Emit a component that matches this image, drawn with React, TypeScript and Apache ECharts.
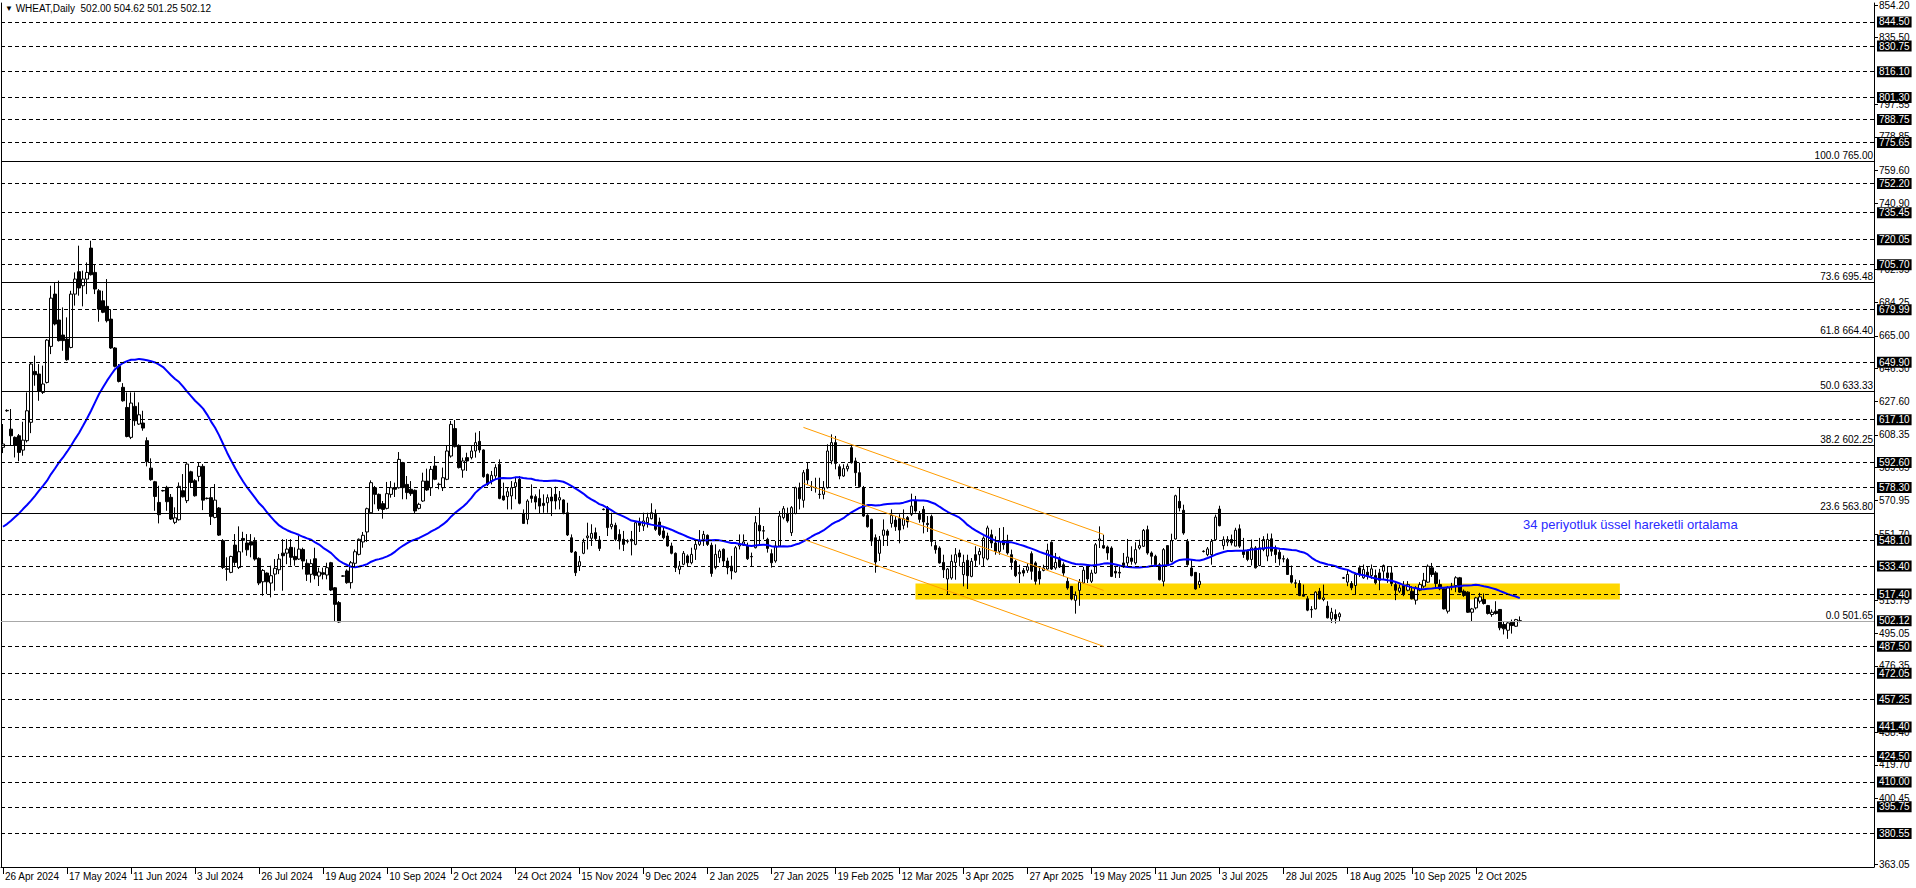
import React, { useEffect, useRef } from "react";
import * as echarts from "echarts";

const chartTitle = "WHEAT,Daily";
const lastBar = [502.0, 504.62, 501.25, 502.12];

const dateLabels = [
  "26 Apr 2024", "17 May 2024", "11 Jun 2024", "3 Jul 2024", "26 Jul 2024", "19 Aug 2024",
  "10 Sep 2024", "2 Oct 2024", "24 Oct 2024", "15 Nov 2024", "9 Dec 2024", "2 Jan 2025",
  "27 Jan 2025", "19 Feb 2025", "12 Mar 2025", "3 Apr 2025", "27 Apr 2025", "19 May 2025",
  "11 Jun 2025", "3 Jul 2025", "28 Jul 2025", "18 Aug 2025", "10 Sep 2025", "2 Oct 2025",
];
const barsPerDateLabel = 16;
const totalSlots = 468;

// daily bars: [open, close, low, high]
const candles: number[][] = [
  [601.3,603.2,598.0,614.6],[622.2,622.4,621.6,623.0],[611.7,607.9,602.2,623.2],[607.0,602.6,595.5,607.5],
  [607.9,598.4,593.3,608.9],[599.7,605.4,596.5,615.9],[605.1,622.2,604.1,632.7],[615.6,648.9,609.4,649.9],
  [644.7,642.8,636.5,653.7],[643.2,633.3,627.9,648.9],[632.7,637.5,631.8,648.0],[638.4,662.6,637.8,663.2],
  [659.0,686.6,654.6,693.7],[688.9,671.8,671.0,695.6],[674.1,662.3,661.8,696.6],[665.5,662.3,656.5,681.3],
  [663.2,651.4,650.8,675.6],[658.4,688.9,657.9,690.8],[688.9,697.5,682.3,701.3],[701.7,692.4,688.0,716.6],
  [693.7,697.5,681.9,702.3],[697.5,701.3,688.9,707.0],[715.2,700.0,699.5,719.4],[701.3,691.8,688.9,706.1],
  [690.8,680.3,673.1,691.8],[685.1,678.5,678.0,690.8],[681.9,673.7,672.7,697.5],[674.6,658.1,657.6,680.3],
  [658.1,647.6,647.0,658.6],[647.6,639.0,638.4,648.9],[635.6,627.9,627.4,638.0],[624.1,607.5,607.0,632.7],
  [607.0,626.6,606.0,632.7],[624.7,616.5,613.6,632.7],[614.6,619.9,614.1,627.0],[615.2,612.3,610.8,622.2],
  [605.1,593.1,590.4,607.0],[589.4,582.8,582.2,595.0],[581.6,573.2,565.0,582.1],[569.8,562.8,557.8,579.3],
  [576.6,576.4,576.0,577.0],[578.4,570.2,565.0,579.3],[572.7,560.3,559.8,574.6],[558.4,561.0,557.4,567.0],
  [559.9,579.0,559.4,581.2],[576.5,573.0,572.6,586.0],[570.8,591.7,569.4,592.2],[587.3,581.2,578.4,587.9],
  [582.2,573.6,573.1,583.1],[584.7,590.4,581.8,592.7],[590.4,571.1,565.4,591.7],[572.2,572.0,571.5,572.6],
  [572.5,561.8,556.9,578.4],[561.2,571.1,560.7,580.3],[566.6,551.1,550.6,567.1],[547.9,532.6,531.7,548.8],
  [531.8,531.6,525.0,538.4],[529.8,538.9,529.3,539.3],[545.4,535.5,533.6,551.7],[532.6,541.6,531.7,556.1],
  [549.2,548.1,541.2,553.0],[546.6,542.7,539.3,551.7],[547.3,545.4,538.4,551.7],[547.5,537.4,536.5,549.8],
  [537.8,523.7,522.5,538.4],[524.4,530.9,516.4,531.7],[529.4,524.4,517.4,529.8],[523.7,527.9,515.5,533.6],
  [528.8,532.1,519.3,537.4],[531.3,537.4,528.8,540.3],[540.8,539.3,519.3,548.8],[540.8,543.1,534.5,548.8],
  [544.1,538.4,533.6,548.8],[538.9,537.0,533.6,544.1],[537.4,543.1,536.9,550.7],[542.9,536.3,531.5,543.9],
  [535.0,528.7,524.9,537.3],[528.7,534.8,523.9,537.3],[537.6,528.1,525.8,543.9],[527.7,530.0,522.0,532.5],
  [529.6,528.7,525.8,532.5],[528.3,532.5,525.8,535.3],[535.3,519.7,519.1,535.8],[521.0,511.5,502.0,521.4],
  [512.5,501.4,501.0,513.4],[527.6,527.8,527.2,528.2],[530.6,523.9,523.3,531.5],[523.9,535.3,520.5,536.3],
  [535.0,541.6,533.1,542.9],[540.1,548.7,539.5,549.2],[547.2,551.0,543.9,552.9],[552.9,566.2,547.2,566.8],
  [563.9,581.1,563.4,582.4],[578.2,574.4,568.7,579.2],[574.4,566.2,564.9,574.9],[569.1,565.8,560.5,570.6],
  [566.4,574.8,565.8,581.5],[574.4,578.2,572.5,582.0],[578.2,577.3,572.9,581.1],[578.2,594.4,577.7,598.6],
  [592.5,578.2,571.6,593.0],[580.1,575.4,571.6,584.9],[577.3,574.8,573.5,582.0],[576.7,564.9,563.4,577.2],
  [566.4,568.7,565.8,569.6],[570.6,582.0,570.1,586.8],[582.0,576.9,576.4,589.1],[578.2,588.7,573.5,590.6],
  [590.6,583.0,582.5,596.3],[580.2,580.0,577.3,581.1],[578.2,583.9,576.3,589.7],[583.0,599.2,582.5,602.1],
  [596.3,614.4,595.4,616.4],[612.0,601.7,601.2,616.9],[602.4,589.7,589.2,603.0],[588.3,593.5,583.9,595.4],
  [595.4,593.5,587.8,598.2],[595.4,599.2,594.4,602.1],[599.2,604.0,595.4,609.7],[604.7,599.8,598.2,610.6],
  [599.8,584.5,583.9,600.1],[585.8,580.1,579.2,586.3],[582.0,585.3,580.1,587.8],[584.9,589.7,583.0,591.6],
  [591.6,572.1,571.6,594.4],[573.5,571.2,570.8,581.1],[573.1,575.9,565.8,578.2],[573.5,578.2,565.8,582.0],
  [578.8,581.1,571.6,584.3],[583.0,569.3,568.7,584.9],[563.5,557.8,557.6,565.8],[560.1,570.6,557.3,571.6],
  [573.5,572.1,569.6,580.1],[573.1,570.0,565.8,574.4],[572.1,567.7,563.5,577.3],[569.3,568.1,563.9,574.4],
  [569.6,572.5,563.9,574.4],[572.9,570.6,562.0,578.2],[574.4,570.6,565.8,578.8],[571.2,572.5,565.8,576.3],
  [571.2,563.9,563.0,571.6],[563.9,551.2,550.6,569.6],[549.6,541.4,540.9,551.5],[541.4,529.6,527.7,542.0],
  [533.4,535.9,530.6,539.2],[540.7,547.2,540.2,549.1],[549.6,550.6,542.9,558.2],[549.3,552.1,544.9,557.3],
  [552.5,549.1,547.7,555.4],[548.3,543.5,542.0,550.6],[565.9,565.7,565.3,566.3],[566.8,555.4,550.6,567.7],
  [555.9,557.3,554.4,563.9],[556.7,548.7,547.7,558.2],[551.5,547.7,542.9,554.4],[548.7,545.8,542.0,553.5],
  [547.8,547.6,546.4,548.7],[548.7,547.7,539.5,553.5],[545.8,558.2,545.3,559.2],[558.2,556.7,552.9,561.1],
  [556.3,559.2,553.5,563.9],[558.2,561.1,555.4,563.9],[560.5,563.9,560.1,569.3],[563.0,554.4,553.5,565.8],
  [558.6,551.5,550.6,561.1],[553.5,549.6,548.7,556.3],[550.6,544.9,544.5,552.5],[544.9,540.7,540.1,546.8],
  [540.7,532.5,530.0,541.2],[531.5,533.4,528.7,536.3],[534.4,540.7,533.9,542.0],[539.2,535.3,533.4,540.1],
  [535.3,540.1,534.4,543.9],[543.0,545.8,536.9,548.7],[545.8,547.7,544.9,554.0],[548.7,551.5,544.9,553.5],
  [551.0,545.8,544.9,551.5],[545.3,529.2,527.3,546.8],[532.5,540.1,531.5,545.8],[538.2,542.0,535.3,543.0],
  [543.0,536.3,533.4,543.5],[536.3,532.5,528.7,538.2],[533.4,530.6,525.8,539.2],[530.0,543.9,529.6,544.9],
  [544.9,546.2,542.9,551.5],[545.3,547.2,544.9,551.5],[544.9,537.6,536.9,546.8],[538.9,538.7,533.4,541.1],
  [543.9,558.2,543.5,562.0],[556.7,553.5,544.9,566.8],[553.6,553.4,548.7,556.3],[548.7,543.5,541.1,549.6],
  [540.5,535.3,532.5,543.0],[536.3,544.9,535.3,547.7],[544.9,562.0,544.4,564.9],[561.1,566.2,560.1,567.7],
  [563.5,559.2,558.2,566.8],[552.5,566.8,550.6,567.7],[563.5,578.2,563.0,578.8],[578.2,571.9,565.8,581.1],
  [571.0,586.8,566.8,588.3],[588.7,582.6,580.1,592.5],[578.9,578.7,576.3,582.0],[578.3,578.1,575.4,583.9],
  [574.5,574.3,571.9,583.9],[574.4,578.2,571.6,582.0],[578.2,599.2,577.7,603.0],[593.5,604.0,591.6,608.7],
  [604.0,592.1,588.7,607.8],[590.2,584.9,583.0,591.6],[584.9,589.1,584.4,591.6],[589.0,590.5,587.5,592.0],
  [601.1,592.5,592.0,603.0],[593.5,586.8,579.2,595.4],[586.8,578.8,578.2,592.5],[578.2,562.0,561.5,579.2],
  [562.4,555.9,555.4,563.0],[560.1,547.7,544.9,560.5],[549.6,535.7,529.6,551.5],[540.7,548.3,536.3,550.6],
  [551.0,554.0,544.9,560.1],[553.4,551.0,544.9,554.4],[557.8,562.4,555.4,565.8],[559.7,555.9,553.5,562.0],
  [560.5,554.0,546.4,563.0],[556.7,560.5,554.4,565.8],[561.1,558.6,555.4,562.0],[563.0,567.7,562.0,574.8],
  [570.6,564.9,563.9,573.5],[563.0,560.1,558.2,564.9],[565.8,558.6,552.1,567.7],[557.8,557.1,552.9,562.0],
  [561.8,547.5,544.7,562.8],[545.1,542.8,540.5,547.5],[543.7,535.2,534.8,544.7],[535.5,531.3,526.6,539.9],
  [526.0,531.7,517.0,532.3],[526.6,536.1,525.6,539.9],[535.5,539.9,525.6,543.7],[540.9,538.6,533.2,542.8],
  [528.5,535.5,521.8,539.9],[536.7,527.9,520.3,539.9],[527.5,536.1,527.0,538.0],[539.9,536.7,533.2,544.7],
  [539.9,541.8,534.2,543.7],[538.0,549.4,533.2,550.4],[537.4,555.2,536.7,556.5],[551.3,546.6,543.7,554.2],
  [546.6,541.8,539.9,550.4],[541.8,547.5,539.9,555.2],[547.5,545.6,542.8,555.7],[548.1,540.9,539.9,551.3],
  [539.9,535.5,531.3,542.8],[536.1,527.9,527.1,537.0],[529.0,529.8,523.7,534.2],[530.9,529.4,527.5,532.3],
  [531.0,533.0,529.5,535.0],[540.5,530.4,525.6,541.8],[535.2,524.7,522.8,536.1],[530.4,526.0,522.8,532.3],
  [530.9,532.3,530.4,534.2],[531.7,542.4,531.3,546.2],[547.0,531.7,531.2,547.5],[532.3,535.5,531.3,540.9],
  [538.0,532.9,532.3,538.9],[534.2,529.4,527.5,535.5],[524.7,520.9,519.9,526.6],[521.8,514.6,513.8,521.8],
  [513.8,516.7,506.2,518.9],[519.5,524.1,510.7,526.0],[523.7,531.0,523.3,532.9],[532.9,526.0,523.7,533.2],
  [524.7,529.4,523.7,531.3],[529.4,545.6,528.9,546.6],[548.1,548.9,543.7,556.1],[545.1,543.7,543.3,551.3],
  [544.3,540.9,537.0,545.1],[543.7,527.5,527.1,544.7],[530.4,529.4,526.6,533.2],[529.8,529.4,526.6,533.2],
  [535.2,533.6,532.3,540.9],[535.2,538.6,533.2,548.9],[538.0,536.1,534.2,544.7],[535.2,542.8,534.2,547.0],
  [543.7,545.1,542.8,548.5],[544.7,553.8,544.3,554.6],[554.2,540.9,539.9,556.5],[540.9,539.0,534.2,541.8],
  [539.0,534.2,533.2,539.9],[534.2,525.6,525.2,535.2],[524.7,542.8,521.8,543.7],[545.1,534.2,533.6,545.1],
  [536.1,547.9,535.6,551.9],[548.9,573.6,548.5,574.2],[570.4,566.6,564.7,578.0],[565.3,552.3,551.3,568.5],
  [547.5,534.2,533.6,548.9],[532.3,527.9,527.5,537.0],[529.8,520.3,519.9,529.8],[522.8,524.7,520.9,529.4],
  [541.7,541.9,541.2,542.4],[539.9,543.2,539.0,544.3],[539.9,547.5,534.2,548.9],[548.5,561.4,548.4,562.8],
  [566.0,556.5,556.1,567.9],[545.1,548.5,542.8,550.4],[547.1,548.6,544.8,550.5],[548.6,546.7,545.2,551.4],
  [544.8,553.9,544.7,555.3],[554.7,544.8,543.8,557.2],[541.9,540.0,538.1,549.5],[541.9,537.2,536.2,542.9],
  [537.2,543.8,533.7,548.6],[543.8,532.4,532.0,544.8],[533.7,543.8,533.3,549.5],[542.9,548.6,541.9,550.5],
  [539.1,548.6,536.2,552.0],[549.0,541.9,539.1,552.0],[542.9,540.0,535.2,545.2],[541.3,537.5,533.7,542.9],
  [537.6,537.4,535.5,539.5],[537.1,528.6,528.3,538.1],[528.0,524.2,523.4,533.7],[523.8,523.6,520.9,525.7],
  [523.4,516.6,516.2,525.3],[517.1,516.2,516.0,522.8],[514.7,508.2,507.6,516.2],[508.6,508.4,503.8,510.5],
  [508.9,518.5,508.6,519.0],[519.0,514.7,514.3,520.9],[514.3,515.2,513.3,522.8],[510.5,503.8,503.5,513.3],
  [503.2,507.0,500.9,509.5],[505.7,503.2,500.6,508.6],[504.4,506.1,501.9,507.0],[526.7,526.5,526.0,527.2],
  [524.2,528.6,521.9,531.4],[523.4,521.0,519.6,524.8],[522.3,528.6,517.1,529.5],[532.4,528.6,527.2,533.7],
  [526.7,531.4,526.1,534.3],[529.9,527.6,525.7,533.3],[528.0,531.8,526.1,534.3],[528.0,523.8,522.9,531.4],
  [529.5,525.3,519.6,531.8],[530.5,533.7,525.7,534.3],[529.5,526.7,523.8,533.3],[529.5,523.4,521.9,533.3],
  [522.8,519.6,513.9,524.8],[519.0,520.9,518.1,522.8],[522.3,517.1,516.2,524.8],[519.6,522.8,519.0,524.8],
  [519.0,514.7,514.3,521.9],[513.9,520.9,511.4,521.9],[519.6,522.8,519.0,524.2],[521.9,525.3,520.9,529.5],
  [524.2,533.3,523.8,534.3],[532.4,528.6,527.2,535.2],[529.5,523.4,520.9,530.5],[522.8,520.4,519.6,525.7],
  [520.4,508.9,508.6,520.9],[507.6,520.9,506.3,521.9],[521.9,521.7,519.6,523.8],[522.3,526.7,518.5,527.6],
  [526.7,518.5,518.1,527.2],[519.0,516.6,515.8,520.0],[518.5,507.0,506.6,519.0],[507.0,508.9,501.9,509.5],
  [509.5,515.2,508.6,515.8],[513.3,515.8,512.0,518.1],[514.3,512.0,511.4,517.7],[510.8,506.3,505.7,511.2],
  [505.7,507.0,504.4,508.6],[507.6,506.3,505.7,513.3],[508.6,498.1,496.7,508.8],[500.0,497.5,494.3,501.9],
  [496.7,500.9,491.8,501.3],[501.3,499.4,494.8,502.8],[499.0,502.8,498.6,503.2],[502.0,502.12,501.25,504.62],
];

const yMin = 361.34;
const yMax = 855.34;
// right-axis scale values that stay visible (others sit under the level boxes)
const yTicks = [
  854.2, 835.5, 797.55, 778.85, 759.6, 740.9, 702.95, 684.25, 665.0, 646.3, 627.6, 608.35,
  589.65, 570.95, 551.7, 513.75, 495.05, 476.35, 438.4, 419.7, 400.45, 363.05,
];

const levelLines = [
  844.5, 830.75, 816.1, 801.3, 788.75, 775.65, 752.2, 735.45, 720.05, 705.7, 679.99, 649.9, 617.1,
  592.6, 578.3, 548.1, 533.4, 517.4, 487.5, 472.05, 457.25, 441.4, 424.5, 410.0, 395.75, 380.55,
];
const fibRatios = ["100.0", "73.6", "61.8", "50.0", "38.2", "23.6", "0.0"];
const fibLevels = [765.0, 695.48, 664.4, 633.33, 602.25, 563.8, 501.65];
const currentPrice = 502.12;

const zoneBars = [228, 404];
const zonePrices = [523.4, 514.3];

const channelBars = [200, 275];
const channelUpper = [612.7, 551.5];
const channelMiddle = [580.7, 519.5];
const channelLower = [548.7, 487.5];

// moving average: first 33 values (need bars before the window),
// the rest computed over the drawn closes
const maPeriod = 34;
const maHead = [
  555.9, 557.4, 559.3, 561.4, 563.5, 566.0, 568.3, 570.8, 573.6, 576.5, 579.3, 582.2, 586.0,
  589.2, 592.7, 595.5, 598.8, 602.2, 606.0, 609.5, 613.6, 617.8, 622.2, 627.0, 631.8, 635.6,
  639.4, 642.8, 646.0, 648.0, 649.5, 650.6, 651.4,
];
const maLabel = "34 periyotluk üssel hareketli ortalama";

const FONT = '"Liberation Sans", Arial, sans-serif';

export default function App() {
  const ref = useRef<HTMLDivElement>(null);

  useEffect(() => {
    document.body.style.margin = "0";
    if (!ref.current) return;
    const chart = echarts.init(ref.current, undefined, { renderer: "svg" });

    const xData = Array.from({ length: totalSlots }, (_, i) => String(i));
    const labelMap = new Map<number, string>();
    dateLabels.forEach((d, k) => labelMap.set(k * barsPerDateLabel, d));
    const showLabel = (i: number) => labelMap.has(i);

    const ma: number[] = candles.map((_, i) => {
      if (i < maHead.length) return maHead[i];
      let s = 0;
      for (let j = i - maPeriod + 1; j <= i; j++) s += candles[j][1];
      return +(s / maPeriod).toFixed(2);
    });

    const boxLabel = (v: number) => ({
      show: true,
      position: "end",
      distance: 3,
      formatter: v.toFixed(2),
      backgroundColor: "#000",
      color: "#fff",
      fontFamily: FONT,
      fontSize: 10,
      lineHeight: 11,
      padding: [0, 2, 0, 2],
    });

    const levelData: any[] = [];
    levelLines.forEach((v) =>
      levelData.push({
        yAxis: v,
        lineStyle: { color: "#000", width: 1, type: [4, 3] },
        label: boxLabel(v),
      })
    );
    fibLevels.forEach((v, i) =>
      levelData.push({
        yAxis: v,
        lineStyle: { color: "#000", width: 1, type: "solid" },
        label: {
          show: true,
          position: "insideEndTop",
          distance: 1,
          formatter: `${fibRatios[i]} ${v.toFixed(2)}`,
          color: "#000",
          fontFamily: FONT,
          fontSize: 10,
        },
      })
    );
    levelData.push({
      yAxis: currentPrice,
      lineStyle: { color: "#a8a8a8", width: 1, type: "solid" },
      label: boxLabel(currentPrice),
    });
    const channel = (vals: number[]) => [
      { coord: [channelBars[0], vals[0]], lineStyle: { color: "#ff9c00", width: 1, type: "solid" }, label: { show: false } },
      { coord: [channelBars[1], vals[1]] },
    ];
    levelData.push(channel(channelUpper), channel(channelMiddle), channel(channelLower));

    const option: any = {
      animation: false,
      backgroundColor: "#ffffff",
      textStyle: { fontFamily: FONT },
      grid: { left: 1, right: 42, top: 3, bottom: 21 },
      xAxis: {
        type: "category",
        data: xData,
        boundaryGap: true,
        axisLine: { show: true, lineStyle: { color: "#000", width: 1 } },
        axisTick: {
          show: true,
          alignWithLabel: true,
          interval: (i: number) => showLabel(i),
          length: 7,
          lineStyle: { color: "#000" },
        },
        axisLabel: {
          interval: (i: number) => showLabel(i),
          formatter: (_v: string, i: number) => labelMap.get(i) ?? "",
          align: "left",
          padding: [0, 0, 0, 2],
          margin: 4,
          color: "#000",
          fontFamily: FONT,
          fontSize: 10,
        },
        splitLine: { show: false },
      },
      yAxis: [
        {
          type: "value",
          position: "right",
          min: yMin,
          max: yMax,
          axisLine: { show: true, lineStyle: { color: "#000", width: 1 } },
          axisTick: { show: true, customValues: yTicks, length: 4, lineStyle: { color: "#000" } },
          axisLabel: {
            customValues: yTicks,
            formatter: (v: number) => v.toFixed(2),
            color: "#000",
            fontFamily: FONT,
            fontSize: 10,
            margin: 5,
            hideOverlap: false,
          },
          splitLine: { show: false },
        },
        {
          type: "value",
          position: "left",
          min: yMin,
          max: yMax,
          axisLine: { show: true, lineStyle: { color: "#000", width: 1 } },
          axisTick: { show: false },
          axisLabel: { show: false },
          splitLine: { show: false },
        },
      ],
      graphic: [
        {
          type: "text",
          left: 5,
          top: 3,
          style: {
            text: `{t|▼} ${chartTitle}  ${lastBar.map((v) => v.toFixed(2)).join(" ")}`,
            fill: "#000",
            font: `10px ${FONT}`,
            rich: { t: { fontSize: 8, fill: "#000" } },
          },
        },
        {
          type: "text",
          left: 1523,
          top: 518,
          style: { text: maLabel, fill: "#2a2aff", font: `13px ${FONT}` },
        },
      ],
      series: [
        {
          name: "zone",
          type: "line",
          data: candles.map(() => null),
          showSymbol: false,
          silent: true,
          z: 0,
          markArea: {
            silent: true,
            itemStyle: { color: "#ffd700", opacity: 1 },
            data: [[{ xAxis: zoneBars[0], yAxis: zonePrices[0] }, { xAxis: zoneBars[1], yAxis: zonePrices[1] }]],
          },
        },
        {
          name: "levels",
          type: "line",
          data: candles.map(() => null),
          showSymbol: false,
          silent: true,
          z: 1,
          markLine: {
            silent: true,
            symbol: ["none", "none"],
            animation: false,
            data: levelData,
          },
        },
        {
          name: chartTitle,
          type: "candlestick",
          data: candles,
          barWidth: 3,
          z: 3,
          itemStyle: {
            color: "#ffffff",
            color0: "#000000",
            borderColor: "#000000",
            borderColor0: "#000000",
            borderWidth: 1,
          },
        },
        {
          name: "MA 34",
          type: "line",
          data: ma,
          showSymbol: false,
          z: 4,
          lineStyle: { color: "#0000ff", width: 2 },
        },
      ],
    };

    chart.setOption(option);
    return () => chart.dispose();
  }, []);

  return (
    <div
      ref={ref}
      style={{ position: "fixed", left: 0, top: 0, width: 1916, height: 888, background: "#fff" }}
    />
  );
}
